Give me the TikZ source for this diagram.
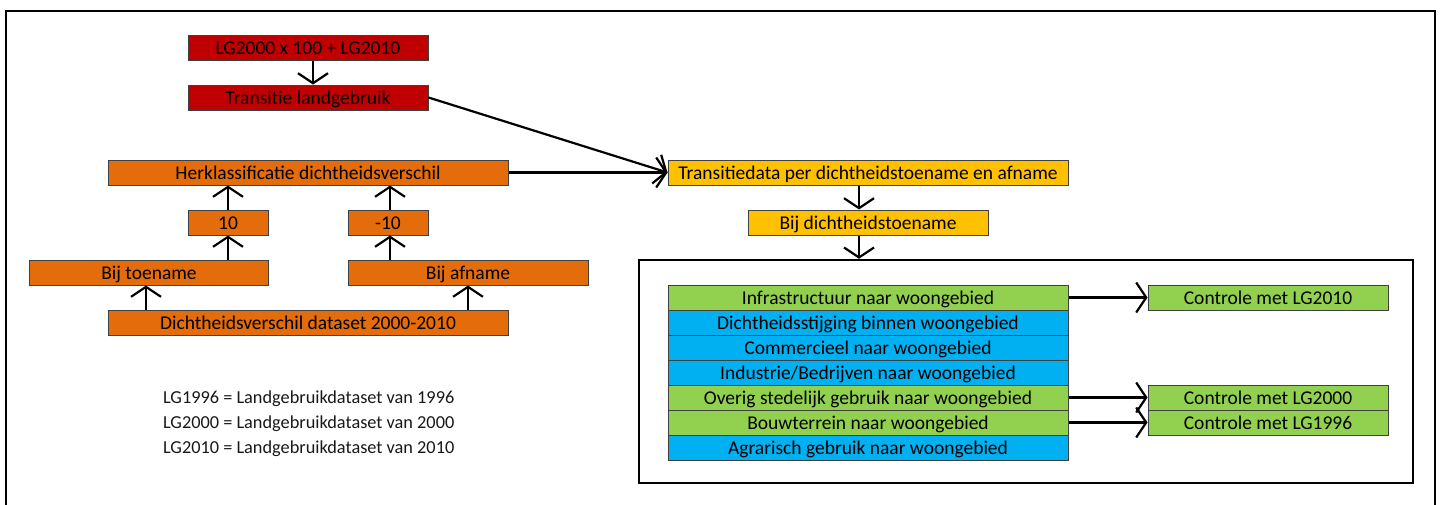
\documentclass[tikz,border=0pt]{standalone}
\usepackage{fontspec}
\setmainfont{Carlito}
\usetikzlibrary{arrows.meta}
\definecolor{cred}{HTML}{C00000}
\definecolor{corange}{HTML}{E46C0A}
\definecolor{cyellow}{HTML}{FFC000}
\definecolor{cgreen}{HTML}{92D050}
\definecolor{cblue}{HTML}{00B0F0}
\definecolor{boxline}{HTML}{404040}
\begin{document}
\begin{tikzpicture}[x=1pt,y=-1pt,
  box/.style={draw=boxline, line width=1pt, minimum height=25pt, inner sep=0pt, text height=14.5pt, text depth=1.5pt, anchor=center, text=black, font=\fontsize{19.5}{21}\selectfont},
  redbox/.style={box, fill=cred},
  orbox/.style={box, fill=corange},
  yebox/.style={box, fill=cyellow},
  grbox/.style={box, fill=cgreen},
  blbox/.style={box, fill=cblue},
  frame/.style={draw=black, line width=2.4pt, inner sep=0pt, anchor=center},
  arr/.style={draw=black, line width=2.2pt, -{Straight Barb[length=10pt, width=30pt, line width=2.2pt]}},
  legend/.style={anchor=west, inner sep=0pt, text=black!90, font=\fontsize{18.3}{20}\selectfont}
]
\useasboundingbox (0,0) rectangle (1442,504);
\fill[white] (0,0) rectangle (1442,504);
% outer frame
\node[frame, minimum width=1429pt, minimum height=500pt] (outer) at (720.5,261) {};

% red
\node[redbox, minimum width=240pt] (r1) at (308,48) {LG2000 x 100 + LG2010};
\node[redbox, minimum width=240pt] (r2) at (308,97.5) {Transitie landgebruik};

% orange
\node[orbox, minimum width=400pt] (herk) at (308,172.5) {Herklassificatie dichtheidsverschil};
\node[orbox, minimum width=80pt] (p10) at (228,222.5) {10};
\node[orbox, minimum width=80pt] (m10) at (388,222.5) {-10};
\node[orbox, minimum width=239pt] (bt) at (149,272.5) {Bij toename};
\node[orbox, minimum width=240pt] (ba) at (468,272.5) {Bij afname};
\node[orbox, minimum width=400pt] (dv) at (308,322.5) {Dichtheidsverschil dataset 2000-2010};

% legend
\node[legend] (l1) at (163,398.5) {LG1996 = Landgebruikdataset van 1996};
\node[legend] (l2) at (163,423.5) {LG2000 = Landgebruikdataset van 2000};
\node[legend] (l3) at (163,448.5) {LG2010 = Landgebruikdataset van 2010};

% yellow
\node[yebox, minimum width=400pt] (ty) at (868,172.5) {Transitiedata per dichtheidstoename en afname};
\node[yebox, minimum width=240pt] (bd) at (868,222.5) {Bij dichtheidstoename};

% inner frame
\node[frame, minimum width=774pt, minimum height=223pt] (inner) at (1026,371.5) {};

% stack
\node[grbox, minimum width=400pt] (s1) at (868,297.5) {Infrastructuur naar woongebied};
\node[blbox, minimum width=400pt] (s2) at (868,322.5) {Dichtheidsstijging binnen woongebied};
\node[blbox, minimum width=400pt] (s3) at (868,347.5) {Commercieel naar woongebied};
\node[blbox, minimum width=400pt] (s4) at (868,372.5) {Industrie/Bedrijven naar woongebied};
\node[grbox, minimum width=400pt] (s5) at (868,397.5) {Overig stedelijk gebruik naar woongebied};
\node[grbox, minimum width=400pt] (s6) at (868,422.5) {Bouwterrein naar woongebied};
\node[blbox, minimum width=400pt] (s7) at (868,447.5) {Agrarisch gebruik naar woongebied};

% controle
\node[grbox, minimum width=240pt] (c10) at (1268,297.5) {Controle met LG2010};
\node[grbox, minimum width=240pt] (c00) at (1268,397.5) {Controle met LG2000};
\node[grbox, minimum width=240pt] (c96) at (1268,422.5) {Controle met LG1996};

% arrows
\draw[arr] ([xshift=5pt]r1.south) -- ([xshift=5pt]r2.north);
\draw[arr] (r2.east) -- (ty.west);
\draw[arr] (herk.east) -- (ty.west);
\draw[arr] (bt.north -| p10.south) -- (p10.south);
\draw[arr] (p10.north) -- (herk.south -| p10.north);
\draw[arr] ([xshift=2pt]ba.north -| m10.south) -- ([xshift=2pt]m10.south);
\draw[arr] ([xshift=2pt]m10.north) -- ([xshift=2pt]herk.south -| m10.north);
\draw[arr] ([xshift=-3pt]dv.north -| bt.south) -- ([xshift=-3pt]bt.south);
\draw[arr] (dv.north -| ba.south) -- (ba.south);
\draw[arr] ([xshift=-9pt]ty.south) -- ([xshift=-9pt]bd.north);
\draw[arr] ([xshift=-9pt]bd.south) -- ([xshift=-9pt]bd.south |- inner.north);
\draw[arr] (s1.east) -- (c10.west);
\draw[arr] (s5.east) -- (c00.west);
\draw[arr] (s6.east) -- (c96.west);
\end{tikzpicture}
\end{document}
